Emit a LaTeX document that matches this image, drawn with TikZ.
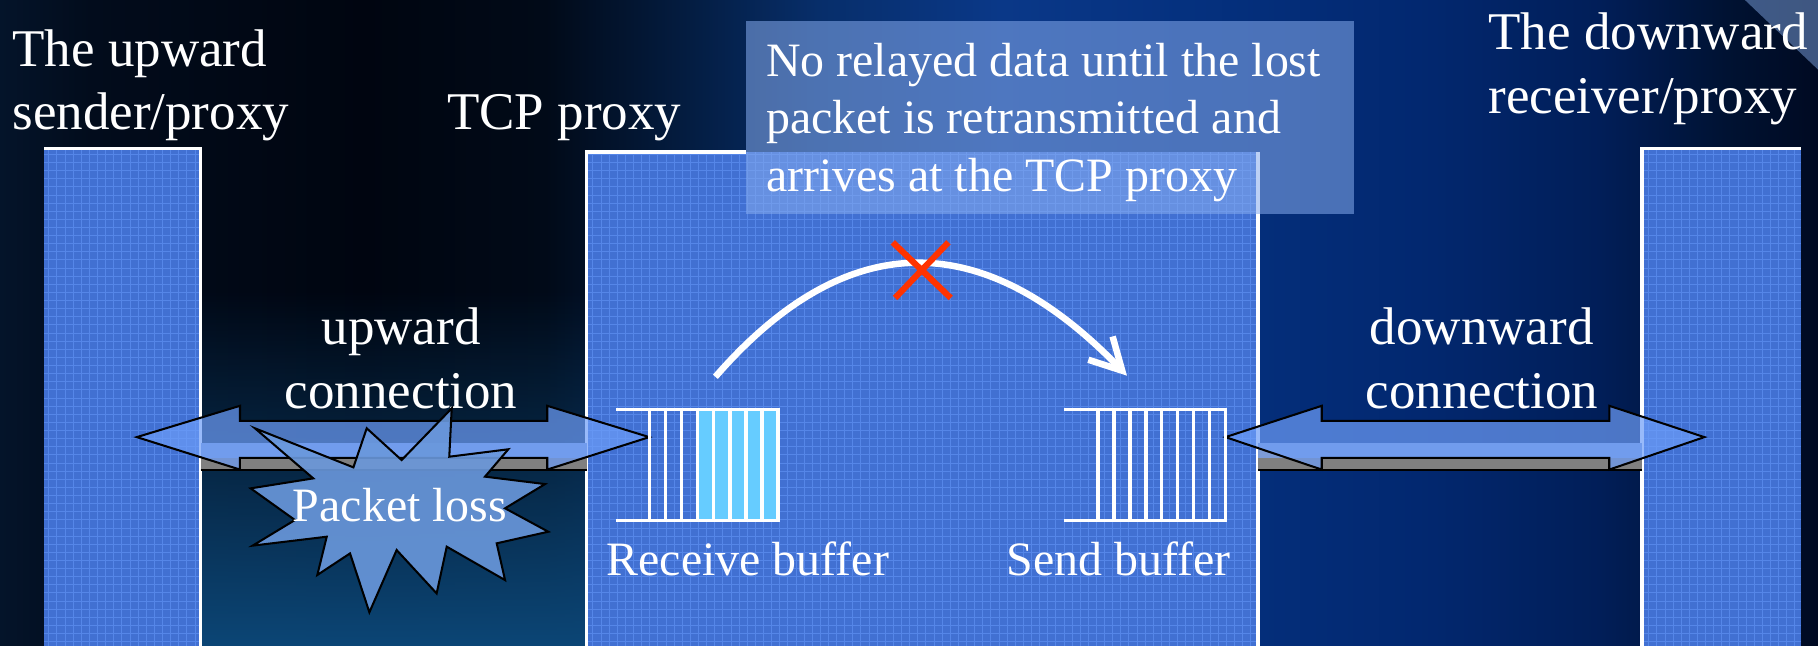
\documentclass[tikz,border=0pt]{standalone}
\usepackage{fontspec}
\setmainfont{Liberation Serif}
\usetikzlibrary{arrows.meta,fadings}

\definecolor{boxblue}{HTML}{4170D2}
\definecolor{gridblue}{HTML}{5586E8}
\definecolor{arrowblue}{HTML}{6D9DF8}
\definecolor{pipetop}{HTML}{7D9BD6}
\definecolor{pipegray}{HTML}{808080}
\definecolor{starblue}{HTML}{6A98DC}
\definecolor{cellblue}{HTML}{66CCFF}
\definecolor{noteblue}{HTML}{86ABEE}
\definecolor{crossred}{HTML}{FF3300}
\definecolor{gapteal}{HTML}{0C4676}
\definecolor{streak}{HTML}{7FA4E0}
\definecolor{bgA}{HTML}{04142A}
\definecolor{bgB}{HTML}{020C1C}
\definecolor{bgC}{HTML}{000510}
\definecolor{bgD}{HTML}{010A18}
\definecolor{bgE}{HTML}{041D42}
\definecolor{bgF}{HTML}{072E6A}
\definecolor{bgG}{HTML}{0A3888}
\definecolor{bgH}{HTML}{05317F}
\definecolor{bgI}{HTML}{022870}
\definecolor{bgJ}{HTML}{011E58}
\definecolor{bgK}{HTML}{001232}
\definecolor{bgL}{HTML}{000A22}

\pgfdeclarehorizontalshading{slidebg}{100bp}{color(0bp)=(bgA); color(25bp)=(bgA);
  color(27.5bp)=(bgB); color(35bp)=(bgC); color(40bp)=(bgD); color(44bp)=(bgE);
  color(47.5bp)=(bgF); color(52.5bp)=(bgG); color(57.5bp)=(bgH); color(64bp)=(bgI);
  color(69bp)=(bgJ); color(72.5bp)=(bgK); color(75bp)=(bgL); color(100bp)=(bgL)}

\begin{document}
\begin{tikzpicture}[x=0.01cm, y=-0.01cm,
    biglabel/.style={text=white, inner sep=0pt, font=\fontsize{13pt}{15.6pt}\selectfont},
    smalllabel/.style={text=white, inner sep=0pt, font=\fontsize{11.75pt}{14.1pt}\selectfont},
    boxgrid/.style={gridblue, line width=0.2pt, step=0.07cm},
    boxedge/.style={white, line width=0.85pt},
    blockarrow/.style={fill=arrowblue, fill opacity=0.7, draw=black, line width=0.5pt, line join=miter},
    buffline/.style={white, line width=0.85pt, line cap=rect}]

            \useasboundingbox (0,0) rectangle (1568,557);
            \shade[shading=slidebg] (0,0) rectangle (1568,557);
            \fill[gapteal, path fading=north] (173,250) rectangle (506,557);
            \fill[streak, opacity=0.5] (1505,0) -- (1568,0) -- (1568,60) -- cycle;

            % the three hosts
            \fill[boxblue] (38,128) rectangle (173,557);
            \draw[boxgrid] (38,128) grid (173,557);
            \draw[boxedge] (38,128) -- (173,128) -- (173,557);

            \fill[boxblue] (506,131) rectangle (1085,557);
            \draw[boxgrid] (506,131) grid (1085,557);
            \draw[boxedge] (506,557) -- (506,131) -- (643,131);
            \draw[boxedge] (1085,131) -- (1085,557);

            \fill[boxblue] (1416,128) rectangle (1553,557);
            \draw[boxgrid] (1416,128) grid (1553,557);
            \draw[boxedge] (1416,557) -- (1416,128) -- (1553,128);

            \node[biglabel, anchor=base west] (upsend) at (10,57) {The upward};
            \node[biglabel, anchor=base west] (upsend2) at (10,112) {sender/proxy};
            \node[biglabel, anchor=base west] (proxytitle) at (385,112) {TCP proxy};
            \node[biglabel, anchor=base west] (downrecv) at (1283,43) {The downward};
            \node[biglabel, anchor=base west] (downrecv2) at (1283,98) {receiver/proxy};

            % connections
            \fill[pipetop] (173,382) rectangle (506,395);
            \fill[pipegray] (173,395) rectangle (506,405);
            \draw[black, line width=0.5pt] (173,405) -- (506,405);
            \fill[pipetop] (1085,382) rectangle (1416,395);
            \fill[pipegray] (1085,395) rectangle (1416,405);
            \draw[black, line width=0.5pt] (1085,405) -- (1416,405);

            \filldraw[blockarrow] (118,377) -- (207,350) -- (207,363) -- (472,363) -- (472,350) -- (560,377)
                -- (472,405) -- (472,395) -- (207,395) -- (207,405) -- cycle;
            \filldraw[pipegray, draw=black, line width=0.5pt] (207,395) rectangle (472,405);
            \filldraw[blockarrow] (1057,377) -- (1140,350) -- (1140,363) -- (1388,363) -- (1388,350) -- (1470,377)
                -- (1388,405) -- (1388,395) -- (1140,395) -- (1140,405) -- cycle;
            \filldraw[pipegray, draw=black, line width=0.5pt] (1140,395) rectangle (1388,405);

            \node[biglabel, anchor=base] (upconn) at (346,297) {upward};
            \node[biglabel, anchor=base] (upconn2) at (346,352) {connection};
            \node[biglabel, anchor=base] (downconn) at (1278,297) {downward};
            \node[biglabel, anchor=base] (downconn2) at (1278,352) {connection};

            % packet loss
            \filldraw[fill=starblue, fill opacity=0.9, draw=black, line width=0.5pt]
                (219.9,369.4) -- (304.8,403.1) -- (316.3,369.4) -- (346.4,396.8) -- (389.6,352.2)
                -- (387.5,393.9) -- (438.4,387.5) -- (418.3,411.1) -- (470.1,417.5) -- (435.6,438.4)
                -- (472.9,458.6) -- (428.4,468.6) -- (435.6,500.3) -- (385.3,471.5) -- (376.6,511.8)
                -- (342.1,474.4) -- (318.6,528.1) -- (301.9,477.3) -- (273.7,495.9) -- (281.8,462.9)
                -- (217.9,470.6) -- (254.4,448.5) -- (216.2,421.2) -- (270.2,412.6) -- cycle;
            \node[smalllabel, anchor=base] (losslabel) at (345,450) {Packet loss};

            % buffers
            \fill[cellblue] (601.7,353) rectangle (671.2,449);
            \draw[buffline] (533,353) -- (671.2,353) (533,449) -- (671.2,449)
                (560,353) -- (560,449) (573.9,353) -- (573.9,449) (587.8,353) -- (587.8,449)
                (601.7,353) -- (601.7,449) (615.6,353) -- (615.6,449) (629.5,353) -- (629.5,449)
                (643.4,353) -- (643.4,449) (657.3,353) -- (657.3,449) (671.2,353) -- (671.2,449);
            \draw[buffline] (919,353) -- (1057,353) (919,449) -- (1057,449)
                (947,353) -- (947,449) (960.75,353) -- (960.75,449) (974.5,353) -- (974.5,449)
                (988.25,353) -- (988.25,449) (1002,353) -- (1002,449) (1015.75,353) -- (1015.75,449)
                (1029.5,353) -- (1029.5,449) (1043.25,353) -- (1043.25,449) (1057,353) -- (1057,449);
            \node[smalllabel, anchor=base] (rcvlabel) at (645,496) {Receive buffer};
            \node[smalllabel, anchor=base] (sndlabel) at (965,496) {Send buffer};

            % blocked relay
            \coordinate (relayfrom) at (617,325);
            \coordinate (relayto) at (972,324);
            \draw[white, line width=1.6pt, -{Straight Barb[length=2.7mm, width=2.9mm]}]
                (relayfrom) .. controls (730,195) and (848,195) .. (relayto);
            \draw[crossred, line width=1.5pt] (770,209) -- (820,257) (818,209) -- (772,257);

            % note
            \fill[noteblue, fill opacity=0.55] (643,18.5) rectangle (1168,184.7);
            \node[smalllabel, anchor=base west] (note1) at (660,66) {No relayed data until the lost};
            \node[smalllabel, anchor=base west] (note2) at (660,115) {packet is retransmitted and};
            \node[smalllabel, anchor=base west] (note3) at (660,165) {arrives at the TCP proxy};
        \end{tikzpicture}
\end{document}
